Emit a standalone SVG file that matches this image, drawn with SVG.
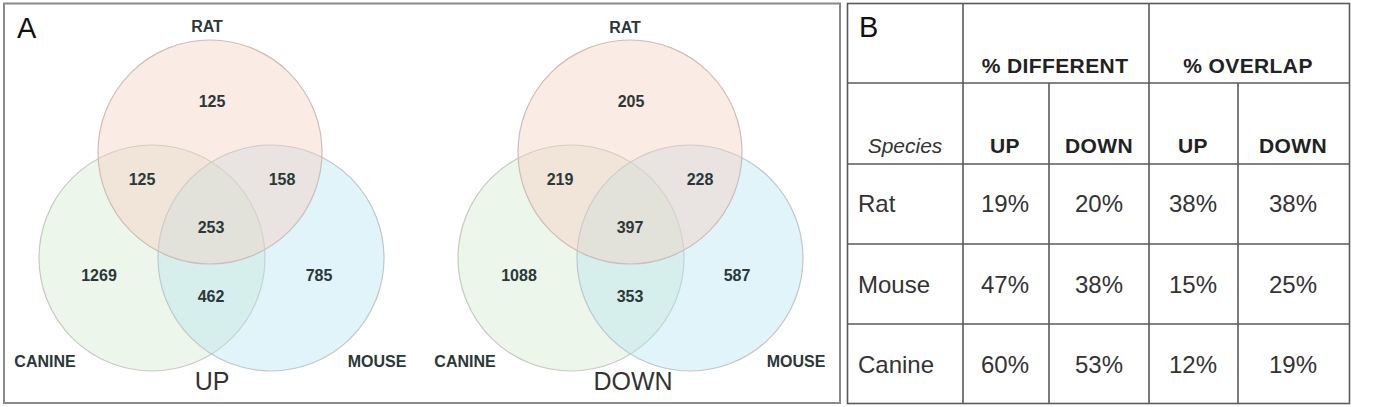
<svg xmlns="http://www.w3.org/2000/svg" width="1374" height="407" viewBox="0 0 1374 407">
<style>
.frame{fill:none;stroke:#8a8a8a;stroke-width:2}
.rat{fill:#f4ccbe;fill-opacity:0.4;stroke:#cbbfb8;stroke-width:1.2}
.can{fill:#d3e9ca;fill-opacity:0.4;stroke:#c6cac2;stroke-width:1.2}
.mou{fill:#b8e5f1;fill-opacity:0.42;stroke:#bec8ca;stroke-width:1.2}
.num{font-family:"Liberation Sans",Arial,sans-serif;font-weight:bold;font-size:16px;fill:#2b3838;text-anchor:middle}
.lbl{font-family:"Liberation Sans",Arial,sans-serif;font-weight:bold;font-size:16px;fill:#2b3838;text-anchor:middle}
.cap{font-family:"Liberation Sans",Arial,sans-serif;font-size:25px;fill:#333;text-anchor:middle}
.pan{font-family:"Liberation Sans",Arial,sans-serif;font-size:29px;fill:#111}
.grid{stroke:#5a5a5a;stroke-width:1.6;fill:none}
.hd{font-family:"Liberation Sans",Arial,sans-serif;font-weight:bold;font-size:21px;letter-spacing:0.4px;fill:#222;text-anchor:middle}
.cell{font-family:"Liberation Sans",Arial,sans-serif;font-size:24px;fill:#333;text-anchor:middle}
.row{font-family:"Liberation Sans",Arial,sans-serif;font-size:24px;fill:#333}
.sp{font-family:"Liberation Sans",Arial,sans-serif;font-style:italic;font-size:21px;fill:#333;text-anchor:middle}
</style>
<g id="panelA">
<rect class="frame" x="4" y="3.5" width="836" height="399.5"/>
<text class="pan" x="17" y="38">A</text>
</g>
<g id="venn-up">
<circle class="can" cx="152" cy="258" r="113"/>
<circle class="mou" cx="271" cy="258" r="113"/>
<circle class="rat" cx="210" cy="152" r="112"/>
<text class="lbl" x="207" y="32">RAT</text>
<text class="num" x="212" y="107">125</text>
<text class="num" x="142" y="185">125</text>
<text class="num" x="282" y="185">158</text>
<text class="num" x="211" y="233">253</text>
<text class="num" x="99" y="281">1269</text>
<text class="num" x="319" y="281">785</text>
<text class="num" x="211" y="302">462</text>
<text class="lbl" x="45" y="367">CANINE</text>
<text class="lbl" x="377" y="367">MOUSE</text>
<text class="cap" x="212" y="390">UP</text>
</g>
<g id="venn-down">
<circle class="can" cx="571" cy="258" r="113"/>
<circle class="mou" cx="690" cy="258" r="113"/>
<circle class="rat" cx="630" cy="152" r="112"/>
<text class="lbl" x="625" y="33">RAT</text>
<text class="num" x="631" y="107">205</text>
<text class="num" x="560" y="185">219</text>
<text class="num" x="700" y="185">228</text>
<text class="num" x="630" y="233">397</text>
<text class="num" x="519" y="281">1088</text>
<text class="num" x="737" y="281">587</text>
<text class="num" x="630" y="302">353</text>
<text class="lbl" x="465" y="367">CANINE</text>
<text class="lbl" x="796" y="367">MOUSE</text>
<text class="cap" x="633" y="390">DOWN</text>
</g>
<g id="tableB">
<rect class="grid" x="847.5" y="3.5" width="502" height="400"/>
<line class="grid" x1="963" y1="3.5" x2="963" y2="403.5"/>
<line class="grid" x1="1149" y1="3.5" x2="1149" y2="403.5"/>
<line class="grid" x1="1049" y1="83" x2="1049" y2="403.5"/>
<line class="grid" x1="1238" y1="83" x2="1238" y2="403.5"/>
<line class="grid" x1="847.5" y1="83" x2="1349.5" y2="83"/>
<line class="grid" x1="847.5" y1="164" x2="1349.5" y2="164"/>
<line class="grid" x1="847.5" y1="244" x2="1349.5" y2="244"/>
<line class="grid" x1="847.5" y1="324" x2="1349.5" y2="324"/>
<text class="pan" x="859" y="37">B</text>
<text class="hd" x="1055" y="73">% DIFFERENT</text>
<text class="hd" x="1248" y="73">% OVERLAP</text>
<text class="sp" x="905" y="153">Species</text>
<text class="hd" x="1005" y="153">UP</text>
<text class="hd" x="1099" y="153">DOWN</text>
<text class="hd" x="1193" y="153">UP</text>
<text class="hd" x="1293" y="153">DOWN</text>
<text class="row" x="858" y="212">Rat</text>
<text class="cell" x="1005" y="212">19%</text>
<text class="cell" x="1099" y="212">20%</text>
<text class="cell" x="1193" y="212">38%</text>
<text class="cell" x="1293" y="212">38%</text>
<text class="row" x="858" y="293">Mouse</text>
<text class="cell" x="1005" y="293">47%</text>
<text class="cell" x="1099" y="293">38%</text>
<text class="cell" x="1193" y="293">15%</text>
<text class="cell" x="1293" y="293">25%</text>
<text class="row" x="858" y="373">Canine</text>
<text class="cell" x="1005" y="373">60%</text>
<text class="cell" x="1099" y="373">53%</text>
<text class="cell" x="1193" y="373">12%</text>
<text class="cell" x="1293" y="373">19%</text>
</g>
</svg>
